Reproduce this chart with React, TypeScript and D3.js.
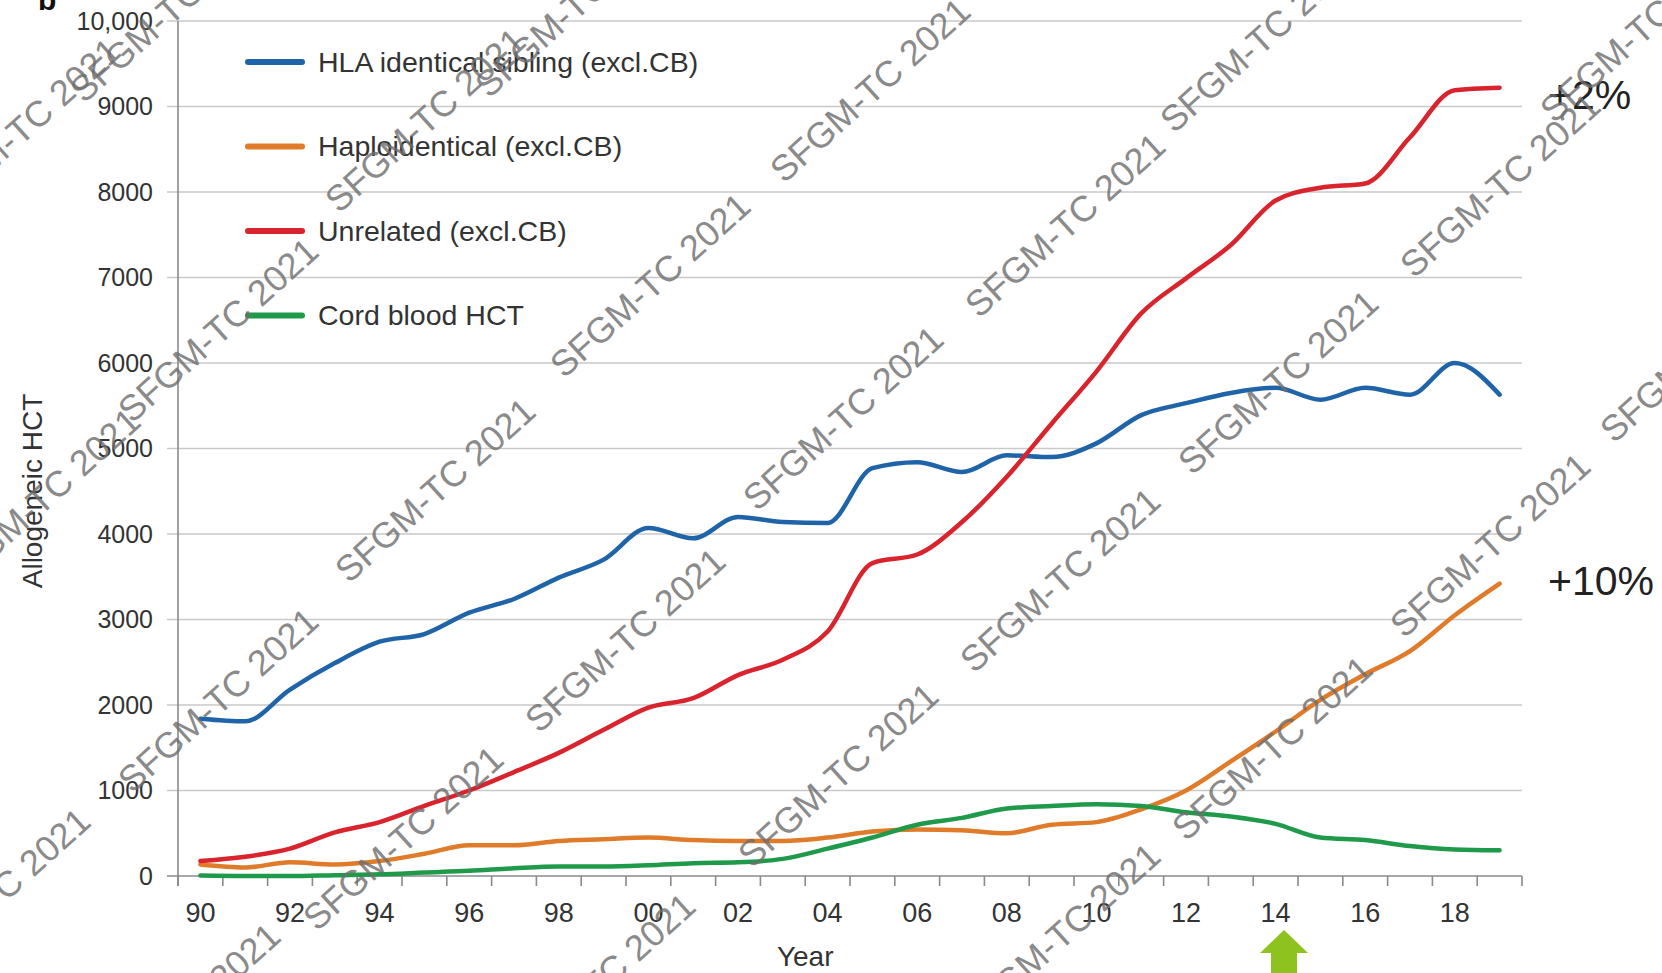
import React, { useEffect, useRef } from "react";
import * as d3 from "d3";

const years = d3.range(1990, 2020);
const sibling = [1840, 1810, 2180, 2490, 2740, 2830, 3080, 3240, 3490, 3700, 4070, 3950, 4200, 4140, 4130, 4770, 4840, 4725, 4920, 4900, 5060, 5390, 5530, 5650, 5710, 5570, 5710, 5630, 6000, 5630];
const haplo = [135, 100, 160, 135, 175, 260, 360, 360, 410, 430, 450, 420, 410, 410, 450, 520, 545, 535, 500, 600, 630, 780, 1000, 1340, 1690, 2060, 2360, 2630, 3050, 3420];
const unrelated = [175, 225, 320, 510, 630, 820, 1000, 1215, 1440, 1710, 1970, 2080, 2350, 2530, 2860, 3660, 3760, 4140, 4670, 5290, 5900, 6580, 6990, 7380, 7900, 8050, 8100, 8640, 9190, 9220];
const cord = [5, 0, 0, 10, 20, 40, 60, 90, 110, 110, 125, 150, 160, 200, 320, 450, 600, 680, 790, 820, 840, 820, 745, 695, 610, 450, 420, 350, 310, 300];

const seriesNames = ["HLA identical sibling (excl.CB)", "Haploidentical (excl.CB)", "Unrelated (excl.CB)", "Cord blood HCT"];
const seriesColors = ["#1f64a8", "#e07b2a", "#d9232d", "#1f9a4a"];
const yTicks = d3.range(0, 10001, 1000);
const xLabelYears = d3.range(1990, 2019, 2);

// watermark centres [x, y]
const marks = [[170, 10], [575, 5], [870, 90], [1260, 40], [1640, 30], [20, 130], [425, 120], [1065, 225], [650, 285], [218, 330], [1500, 185], [843, 418], [1278, 382], [435, 490], [40, 500], [1060, 580], [625, 640], [1490, 545], [218, 700], [838, 775], [1272, 748], [403, 838], [-10, 900], [1060, 935], [595, 985], [180, 1015], [1700, 350]];

export default function App() {
  const ref = useRef<SVGSVGElement>(null);

  useEffect(() => {
    const width = 1662, height = 973;
    const svg = d3.select(ref.current);
    svg.selectAll("*").remove();

    const x = d3.scaleLinear().domain([1989.5, 2019.5]).range([178, 1522]);
    const y = d3.scaleLinear().domain([0, 10000]).range([876, 21]);
    const font = "'Liberation Sans', Arial, sans-serif";

    svg.append("rect").attr("width", width).attr("height", height).attr("fill", "#fff");

    // grid
    svg.append("g").selectAll("line").data(yTicks.slice(1)).enter().append("line")
      .attr("x1", 167).attr("x2", 1522)
      .attr("y1", d => y(d)).attr("y2", d => y(d))
      .attr("stroke", "#c9c9c9").attr("stroke-width", 1.6);

    // axes
    const axisG = svg.append("g").attr("stroke", "#8a8a8a").attr("stroke-width", 1.6);
    axisG.append("line").attr("x1", x(1989.5)).attr("x2", x(1989.5)).attr("y1", y(10000)).attr("y2", y(0) + 10);
    axisG.append("line").attr("x1", 167).attr("x2", x(2019.5)).attr("y1", y(0)).attr("y2", y(0));
    axisG.selectAll(".xt").data(d3.range(1989.5, 2020, 1)).enter().append("line")
      .attr("x1", d => x(d)).attr("x2", d => x(d)).attr("y1", y(0)).attr("y2", y(0) + 10);

    svg.append("g").selectAll("text").data(yTicks).enter().append("text")
      .attr("x", 153).attr("y", d => y(d)).attr("dy", "0.35em")
      .attr("text-anchor", "end").attr("font-family", font).attr("font-size", 25).attr("fill", "#333")
      .text(d => d === 10000 ? "10,000" : String(d));

    svg.append("g").selectAll("text").data(xLabelYears).enter().append("text")
      .attr("x", d => x(d)).attr("y", 922)
      .attr("text-anchor", "middle").attr("font-family", font).attr("font-size", 27).attr("fill", "#333")
      .text(d => String(d % 100).padStart(2, "0"));

    svg.append("text").attr("x", x(2003.5)).attr("y", 966).attr("text-anchor", "middle")
      .attr("font-family", font).attr("font-size", 28).attr("fill", "#333").text("Year");

    svg.append("text").attr("transform", "translate(32,491) rotate(-90)").attr("text-anchor", "middle")
      .attr("dy", "0.35em").attr("font-family", font).attr("font-size", 28).attr("fill", "#333").text("Allogeneic HCT");

    // lines
    const line = d3.line<number>()
      .x((d, i) => x(years[i]))
      .y(d => y(d))
      .curve(d3.curveMonotoneX);

    [sibling, haplo, unrelated, cord].forEach((s, i) => {
      svg.append("path").attr("d", line(s)).attr("fill", "none")
        .attr("stroke", seriesColors[i]).attr("stroke-width", 4.5)
        .attr("stroke-linejoin", "round").attr("stroke-linecap", "round");
    });

    // legend
    const lg = svg.append("g").selectAll("g").data(seriesNames).enter().append("g")
      .attr("transform", (d, i) => "translate(0," + (62 + i * 84.5) + ")");
    lg.append("line").attr("x1", 248).attr("x2", 302).attr("stroke", (d, i) => seriesColors[i])
      .attr("stroke-width", 6).attr("stroke-linecap", "round");
    lg.append("text").attr("x", 318).attr("dy", "0.35em").attr("font-family", font)
      .attr("font-size", 28.5).attr("fill", "#333").text(d => d);

    svg.append("text").attr("x", 1548).attr("y", 109).attr("font-family", font)
      .attr("font-size", 41).attr("fill", "#222").text("+2%");
    svg.append("text").attr("x", 1548).attr("y", 595).attr("font-family", font)
      .attr("font-size", 41).attr("fill", "#222").text("+10%");

    // green arrow under 14
    const ax = 1284;
    svg.append("path")
      .attr("d", `M${ax},930 L${ax + 24},953 L${ax + 13},953 L${ax + 13},973 L${ax - 13},973 L${ax - 13},953 L${ax - 24},953 Z`)
      .attr("fill", "#8dc21f");

    svg.append("text").attr("x", 38).attr("y", 10).attr("font-family", font).attr("font-weight", "bold")
      .attr("font-size", 30).attr("fill", "#111").text("b");

    // watermarks
    svg.append("g").selectAll("text").data(marks).enter().append("text")
      .attr("transform", d => "translate(" + d[0] + "," + d[1] + ") rotate(-42)")
      .attr("text-anchor", "middle").attr("dy", "0.35em")
      .attr("font-family", font).attr("font-size", 36).attr("fill", "#6e6e6e").attr("opacity", 0.8)
      .text("SFGM-TC 2021");
  }, []);

  return (
    <svg ref={ref} width={1662} height={973} style={{ position: "absolute", left: 0, top: 0 }} />
  );
}
